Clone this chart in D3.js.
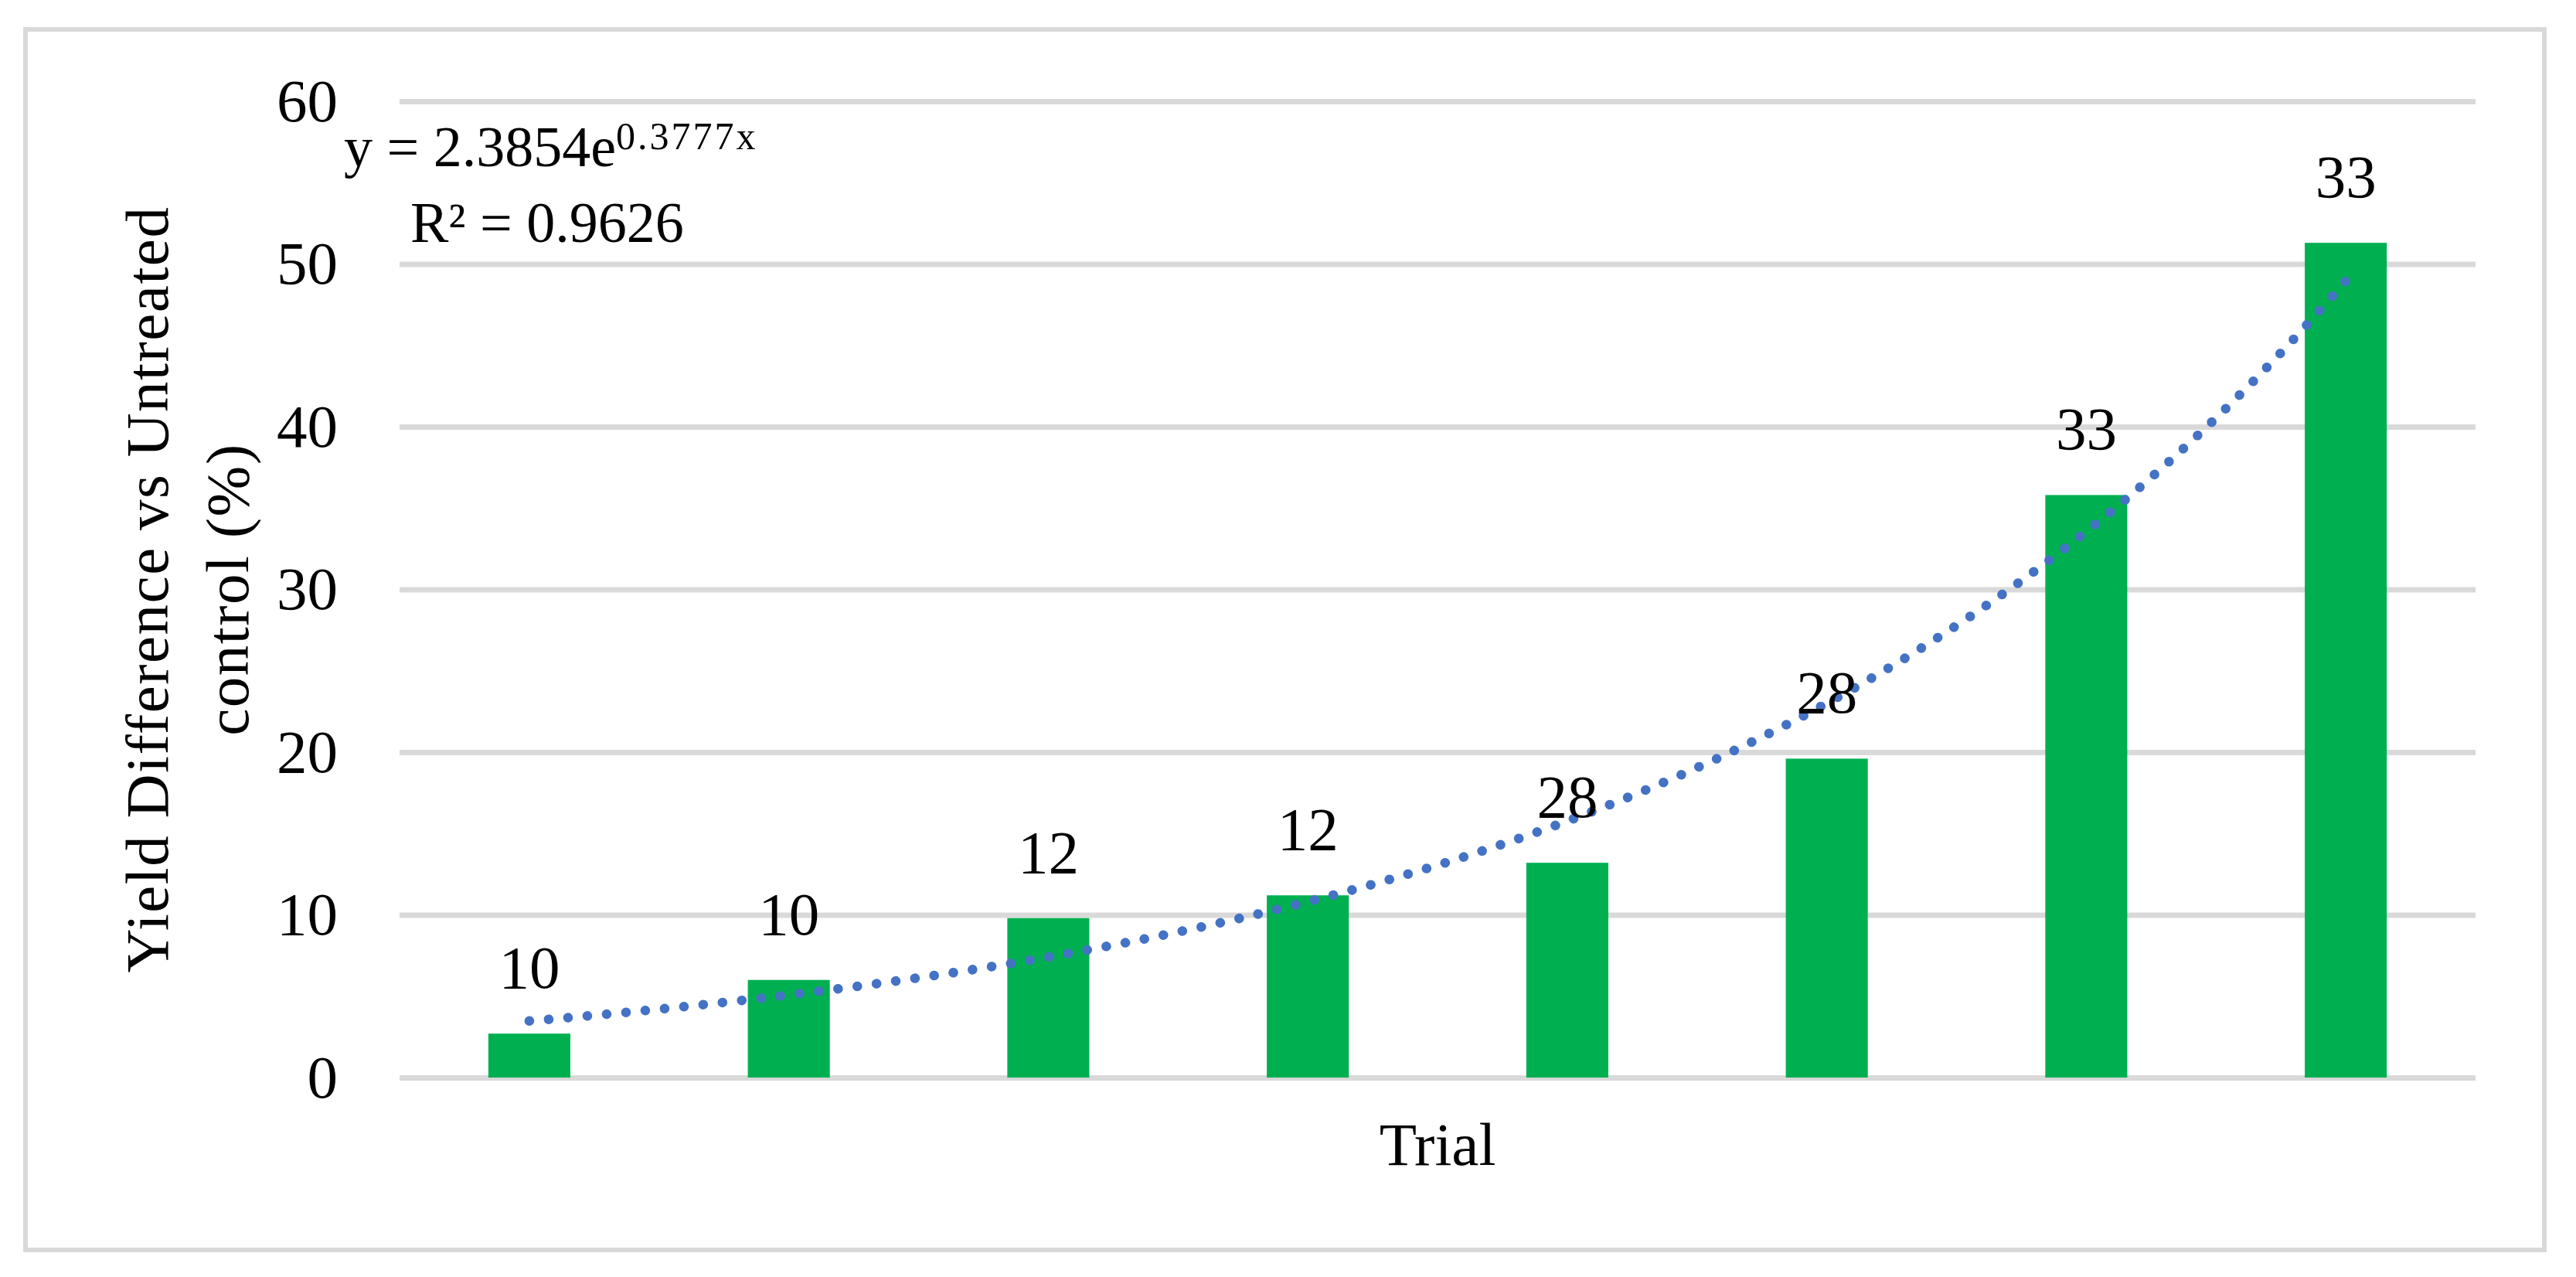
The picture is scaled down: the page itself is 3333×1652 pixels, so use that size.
<!DOCTYPE html>
<html lang="en">

<head>
  <meta charset="UTF-8">
  <title>Yield Difference vs Untreated control</title>
  <script src="https://d3js.org/d3.v7.min.js"></script>
  <style>
    body { margin: 0; background: #fff; }
    text { font-family: "Liberation Serif", "Times New Roman", serif; fill: #000; }
  </style>
</head>

<body>
  <div class="canvas"></div>
  <script>
    // data
    const trials = ['1', '2', '3', '4', '5', '6', '7', '8'];
    const yieldDiff = [2.7, 6.0, 9.8, 11.2, 13.2, 19.6, 35.8, 51.3];
    const barLabels = ['10', '10', '12', '12', '28', '28', '33', '33'];
    const yTicks = [0, 10, 20, 30, 40, 50, 60];
    // exponential trendline as printed on the chart
    const trendA = 2.3854;
    const trendB = 0.3777;
    const trendR2 = '0.9626';

    const width = 3333;
    const height = 1652;
    const [mt, mr, mb, ml] = [131, 130, 258, 517];

    const svg = d3.select('.canvas')
      .append('svg')
      .attr('width', width)
      .attr('height', height)

    // outer chart border
    svg.append('rect')
      .attr('x', 33).attr('y', 38)
      .attr('width', 3292 - 33).attr('height', 1617 - 38)
      .attr('fill', '#fff')
      .attr('stroke', '#d9d9d9')
      .attr('stroke-width', 6)

    const x = d3.scaleBand()
      .domain(trials)
      .range([ml, width - mr])
      .paddingInner(0.684)
      .paddingOuter(0.342)

    const y = d3.scaleLinear()
      .domain([0, 60])
      .range([height - mb, mt])

    // gridlines
    svg.append('g')
      .attr('transform', `translate(${ml},0)`)
      .call(d3.axisLeft(y).tickValues(yTicks).tickSize(-(width - mr - ml)).tickFormat(''))
      .call(g => g.select('.domain').remove())
      .call(g => g.selectAll('line').attr('stroke', '#d9d9d9').attr('stroke-width', 7))

    // y tick labels
    svg.append('g')
      .attr('transform', `translate(${ml},0)`)
      .call(d3.axisLeft(y).tickValues(yTicks).tickSize(0).tickPadding(80))
      .call(g => g.select('.domain').remove())
      .call(g => g.selectAll('text')
        .attr('font-size', 79)
        .attr('font-family', '"Liberation Serif", serif')
        .attr('fill', '#000'))

    // bars
    svg.selectAll('rect.bar')
      .data(yieldDiff)
      .enter()
      .append('rect')
      .attr('class', 'bar')
      .attr('x', (d, i) => x(trials[i]))
      .attr('y', d => y(d))
      .attr('width', x.bandwidth())
      .attr('height', d => y(0) - y(d))
      .attr('fill', '#00b050')

    // trendline y = a*e^(b*x), x = trial number
    const xt = d3.scaleLinear()
      .domain([1, trials.length])
      .range([x(trials[0]) + x.bandwidth() / 2, x(trials[trials.length - 1]) + x.bandwidth() / 2])
    const tx = d3.range(1, trials.length + 0.001, 0.05)
    svg.append('path')
      .datum(tx)
      .attr('d', d3.line().x(d => xt(d)).y(d => y(trendA * Math.exp(trendB * d))))
      .attr('fill', 'none')
      .attr('stroke', '#4472c4')
      .attr('stroke-width', 12.5)
      .attr('stroke-linecap', 'round')
      .attr('stroke-dasharray', '0.1,25')

    // bar labels
    svg.selectAll('text.lbl')
      .data(yieldDiff)
      .enter()
      .append('text')
      .attr('class', 'lbl')
      .attr('x', (d, i) => x(trials[i]) + x.bandwidth() / 2)
      .attr('y', d => y(d) - 59)
      .attr('text-anchor', 'middle')
      .attr('font-size', 79)
      .text((d, i) => barLabels[i])

    // trendline equation
    const eq = svg.append('text')
      .attr('x', 445)
      .attr('y', 215)
      .attr('font-size', 74)
    eq.append('tspan').text(`y = ${trendA}e`)
    eq.append('tspan')
      .attr('font-size', 50)
      .attr('dy', -22)
      .attr('letter-spacing', 3)
      .text(`${trendB}x`)

    svg.append('text')
      .attr('x', 531)
      .attr('y', 313)
      .attr('font-size', 74)
      .text(`R² = ${trendR2}`)

    // axis titles
    svg.append('text')
      .attr('x', (ml + width - mr) / 2)
      .attr('y', 1507)
      .attr('text-anchor', 'middle')
      .attr('font-size', 79)
      .text('Trial')

    const yTitle = svg.append('text')
      .attr('transform', `translate(217,${(mt + height - mb) / 2}) rotate(-90)`)
      .attr('text-anchor', 'middle')
      .attr('font-size', 79)
      .attr('letter-spacing', 1.5)
    yTitle.append('tspan').attr('x', 0).attr('y', 0).text('Yield Difference vs Untreated')
    yTitle.append('tspan').attr('x', 0).attr('y', 104).text('control (%)')
  </script>

</body>

</html>
